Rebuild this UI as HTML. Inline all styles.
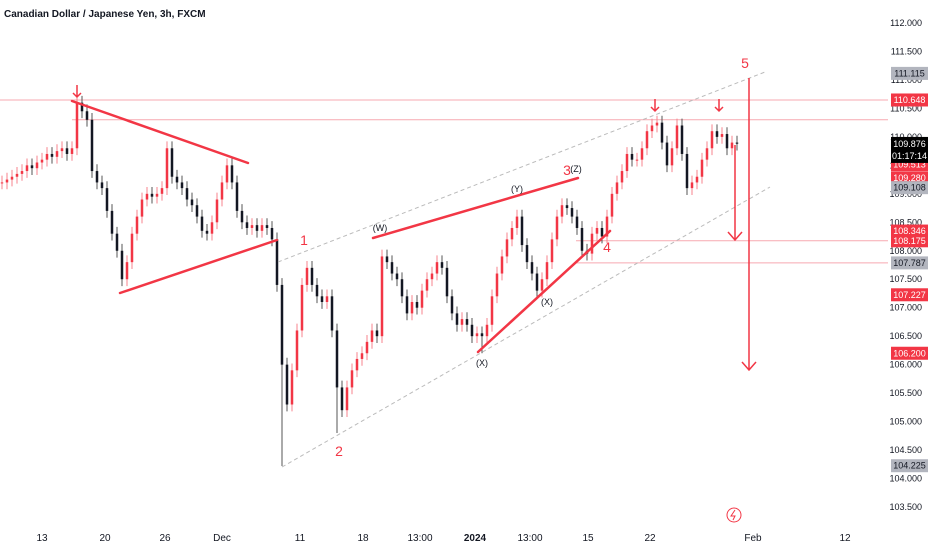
<!DOCTYPE html>
<html><head><meta charset="utf-8">
<style>
body{margin:0;background:#fff;font-family:"Liberation Sans",sans-serif;}
svg{display:block}
</style></head>
<body>
<svg id="chart" width="932" height="550" xmlns="http://www.w3.org/2000/svg">
<rect width="932" height="550" fill="#fff"/>
<text x="4" y="17" font-size="10" fill="#131722" font-weight="bold">Canadian Dollar / Japanese Yen, 3h, FXCM</text>
<g id="hlines"></g>
<g id="candles"></g>
<g id="drawings"></g>
<g id="axis"></g>
</svg>
<script>
const closes=[109.2,109.25,109.3,109.35,109.4,109.5,109.45,109.55,109.6,109.7,109.65,109.75,109.8,109.7,109.8,
110.6,110.45,110.3,109.4,109.2,109.1,108.7,108.3,108.0,107.5,107.8,108.3,108.6,108.9,109.0,108.95,109.0,109.1,109.8,109.3,109.2,109.1,108.9,108.8,108.6,108.35,108.3,108.5,108.9,109.2,109.5,109.2,108.7,108.5,108.4,108.45,108.35,108.45,108.4,108.2,107.4,106.0,105.3,105.9,106.6,107.4,107.7,107.4,107.2,107.1,107.2,106.6,105.6,105.2,105.6,105.9,106.1,106.2,106.4,106.6,106.5,107.9,107.8,107.6,107.5,107.2,106.9,107.1,107.0,107.3,107.5,107.6,107.8,107.7,107.2,106.9,106.7,106.8,106.7,106.5,106.55,106.5,106.7,107.2,107.6,107.9,108.2,108.4,108.6,108.1,107.8,107.6,107.3,107.5,107.8,108.2,108.6,108.8,108.75,108.6,108.4,108.0,107.95,108.3,108.4,108.25,108.6,109.0,109.2,109.4,109.7,109.6,109.6,109.8,110.1,110.2,110.25,109.9,109.5,109.8,110.2,109.7,109.1,109.2,109.3,109.6,109.8,110.1,110.0,110.05,109.8,109.9,109.88];
const spikeIdx=[56,67,96];
const spikeLows=[104.22,104.8,106.2];
const priceTicks=[112,111.5,111,110.5,110,109.5,109,108.5,108,107.5,107,106.5,106,105.5,105,104.5,104,103.5];
const dateLabels=["13","20","26","Dec","11","18","13:00","2024","13:00","15","22","Feb","12"];
const dateXs=[42,105,165,222,300,363,420,475,530,588,650,753,845];
const badgeValues=[111.115,110.648,109.513,109.280,109.108,108.346,108.175,107.787,107.227,106.200,104.225];
const badgeColors=["#b2b5be","#f23645","#f23645","#f23645","#b2b5be","#f23645","#f23645","#b2b5be","#f23645","#f23645","#b2b5be"];
const NS="http://www.w3.org/2000/svg";
const y=p=>23+(112-p)*56.94;
const xc=i=>2+i*5;
function mk(tag,attrs,parent){const e=document.createElementNS(NS,tag);for(const k in attrs)e.setAttribute(k,attrs[k]);parent.appendChild(e);return e;}
const hl=document.getElementById('hlines');
[[110.648,0],[110.30,72],[108.175,576],[107.787,576]].forEach(([p,x0])=>{
 const l=mk('line',{x1:x0,x2:888,y1:y(p),y2:y(p),stroke:'#f7a9b0','stroke-width':1},hl);
 
 
});
const cg=document.getElementById('candles');
closes.forEach((c,i)=>{
 const o=i?closes[i-1]:c;
 const up=c>=o;const col=up?'#f23645':'#131722';
 const hi=Math.max(o,c)+0.12;
 const si=spikeIdx.indexOf(i);
 const lo=si>=0?spikeLows[si]:Math.min(o,c)-0.12;
 const w=mk('line',{x1:xc(i),x2:xc(i),y1:y(hi),y2:y(lo),stroke:up?'#f7838d':'#555','stroke-width':1},cg);
 
 
 const b=mk('rect',{x:xc(i)-1.25,y:y(Math.max(o,c)),width:2.5,height:Math.max(1,Math.abs(y(o)-y(c))),fill:col},cg);
 
 
});
const ax=document.getElementById('axis');
priceTicks.forEach(p=>{
 const t=mk('text',{x:922,y:y(p)+3,'font-size':9,fill:'#131722','text-anchor':'end'},ax);t.textContent=p.toFixed(3);
 
 
});
dateLabels.forEach((d,i)=>{
 const t=mk('text',{x:dateXs[i],y:541,'font-size':10,fill:'#131722','text-anchor':'middle','font-weight':d==='2024'?'bold':'normal'},ax);t.textContent=d;
 
 
});
badgeValues.forEach((v,i)=>{
 const r=mk('rect',{x:891,y:y(v)-6.5,width:37,height:13,fill:badgeColors[i]},ax);
 
 
 const t=mk('text',{x:909.5,y:y(v)+3,'font-size':9,fill:badgeColors[i]==='#f23645'?'#fff':'#131722','text-anchor':'middle'},ax);t.textContent=v.toFixed(3);
 
 
});
const cur=mk('rect',{x:891,y:y(109.876)-7,width:37,height:26,fill:'#000'},ax);


const ct=mk('text',{x:909.5,y:y(109.876)+3,'font-size':9,fill:'#fff','text-anchor':'middle'},ax);ct.textContent='109.876';


const ct2=mk('text',{x:909.5,y:y(109.876)+15,'font-size':9,fill:'#fff','text-anchor':'middle'},ax);ct2.textContent='01:17:14';


</script>
<svg style="position:absolute;left:0;top:0" width="932" height="550">
<g stroke="#bbb" stroke-dasharray="4,3" stroke-width="1">
<line x1="282" y1="467" x2="770" y2="187"/>
<line x1="278" y1="262" x2="765" y2="72"/>
</g>
<g stroke="#f23645" stroke-width="2.5" stroke-linecap="round">
<line x1="72" y1="101" x2="248" y2="163"/>
<line x1="120" y1="293" x2="277" y2="240"/>
<line x1="373" y1="238" x2="578" y2="178"/>
<line x1="478" y1="352" x2="610" y2="231"/>
</g>
<g stroke="#f23645" stroke-width="1.5" fill="none">
<path d="M749 78V370M742 362L749 370L756 362"/>
<path d="M735 145V240M728 232L735 240L742 232"/>
<path d="M77 85V97M73 93L77 97L81 93"/>
<path d="M655 99V111M651 107L655 111L659 107"/>
<path d="M719 99V111M715 107L719 111L723 107"/>
</g>
<g fill="#f23645" font-size="14" font-family="Liberation Sans,sans-serif" text-anchor="middle">
<text x="304" y="245">1</text>
<text x="339" y="456">2</text>
<text x="567" y="175">3</text>
<text x="607" y="252">4</text>
<text x="745" y="68">5</text>
</g>
<g fill="#131722" font-size="9" font-family="Liberation Sans,sans-serif" text-anchor="middle">
<text x="380" y="231">(W)</text>
<text x="517" y="192">(Y)</text>
<text x="576" y="172">(Z)</text>
<text x="482" y="366">(X)</text>
<text x="547" y="305">(X)</text>
</g>
<circle cx="734" cy="515" r="7" fill="none" stroke="#f23645" stroke-width="1"/>
<path d="M735 510L731 516H735L733 520" stroke="#f23645" fill="none"/>
</svg>
</body></html>
